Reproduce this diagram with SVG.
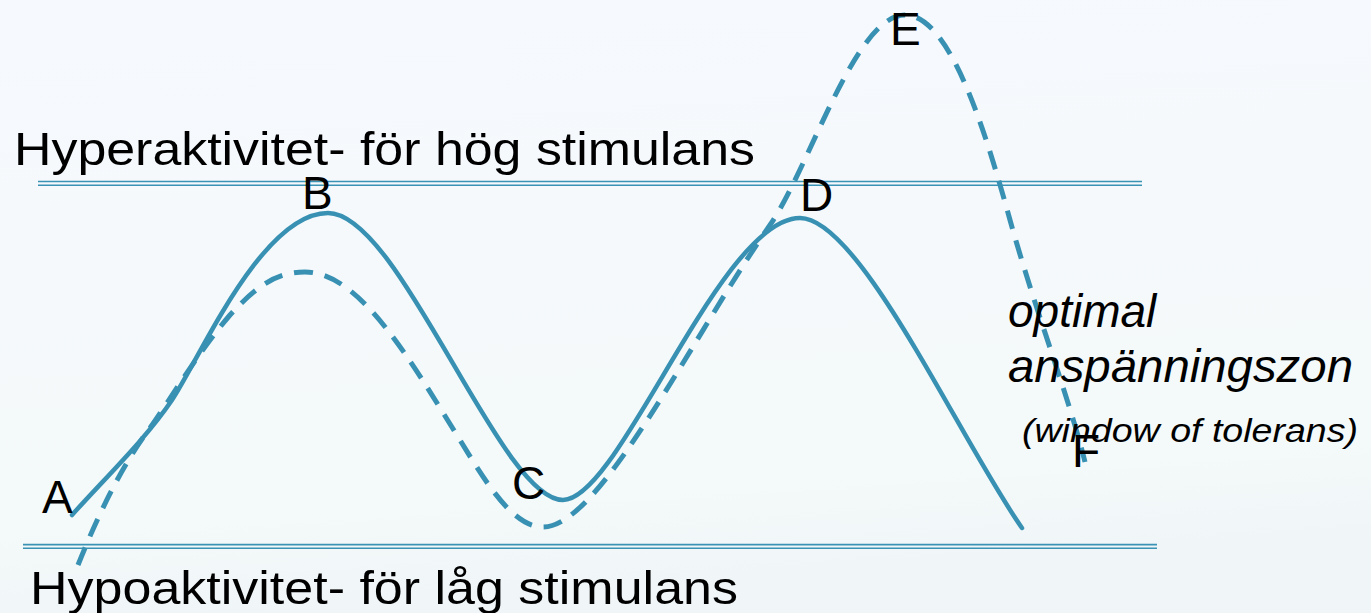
<svg xmlns="http://www.w3.org/2000/svg" width="1371" height="613" viewBox="0 0 1371 613">
<defs>
<linearGradient id="bg" x1="0" y1="0" x2="0.15" y2="1">
<stop offset="0" stop-color="#f6f9fe"/>
<stop offset="0.85" stop-color="#f4f9f9"/>
<stop offset="1" stop-color="#f0f5f8"/>
</linearGradient>
<style>
.lbl{font-family:"Liberation Sans",Arial,sans-serif;fill:#000;}
.big{font-size:46px;}
.it{font-style:italic;}
.band{stroke:#3a93b4;stroke-width:1.6;fill:none;}
.curve{stroke:#3891b3;stroke-width:4.5;fill:none;stroke-linecap:round;stroke-linejoin:round;}
.dash{stroke:#3891b3;stroke-width:5;fill:none;stroke-dasharray:19 12;}
</style>
</defs>
<rect width="1371" height="613" fill="url(#bg)"/>
<g id="hyper-band">
<line class="band" x1="38" y1="181.5" x2="1142" y2="181.5"/>
<line class="band" x1="38" y1="185.3" x2="1142" y2="185.3"/>
<text class="lbl big" x="14" y="165" textLength="741" lengthAdjust="spacingAndGlyphs">Hyperaktivitet- för hög stimulans</text>
</g>
<g id="hypo-band">
<line class="band" x1="23" y1="544.6" x2="1157" y2="544.6"/>
<line class="band" x1="23" y1="548.3" x2="1157" y2="548.3"/>
<text class="lbl big" x="30" y="604" textLength="708" lengthAdjust="spacingAndGlyphs">Hypoaktivitet- för låg stimulans</text>
</g>
<g id="connectors">
<path class="curve" d="M72,515 C105,478 145,440 172,400 C200,358 262,213 328,213 C400,213 500,500 563,500 C620,500 720,218 800,218 C860,218 960,440 1022,528"/>
<path class="dash" d="M78,565 C98,515 122,465 150,428 C175,392 200,350 230,315 C255,288 275,272 305,272 C360,272 410,360 460,440 C490,490 515,527 543,527 C600,527 690,340 770,225 C810,167 855,15 905,15 C950,15 985,130 1010,220 S1070,400 1085,462"/>
</g>
<g id="node-A"><text class="lbl big" x="42" y="513">A</text></g>
<g id="node-B"><text class="lbl big" x="302" y="209">B</text></g>
<g id="node-C"><text class="lbl big" x="512" y="499">C</text></g>
<g id="node-D"><text class="lbl big" x="800" y="211">D</text></g>
<g id="node-E"><text class="lbl big" x="890" y="45">E</text></g>
<g id="node-F"><text class="lbl big" x="1072" y="467">F</text></g>
<g id="zone-label">
<text class="lbl big it" x="1008" y="327">optimal</text>
<text class="lbl big it" x="1008" y="382" textLength="345" lengthAdjust="spacingAndGlyphs">anspänningszon</text>
<text class="lbl it" font-size="34" x="1022" y="442" textLength="336" lengthAdjust="spacingAndGlyphs">(window of tolerans)</text>
</g>
</svg>
